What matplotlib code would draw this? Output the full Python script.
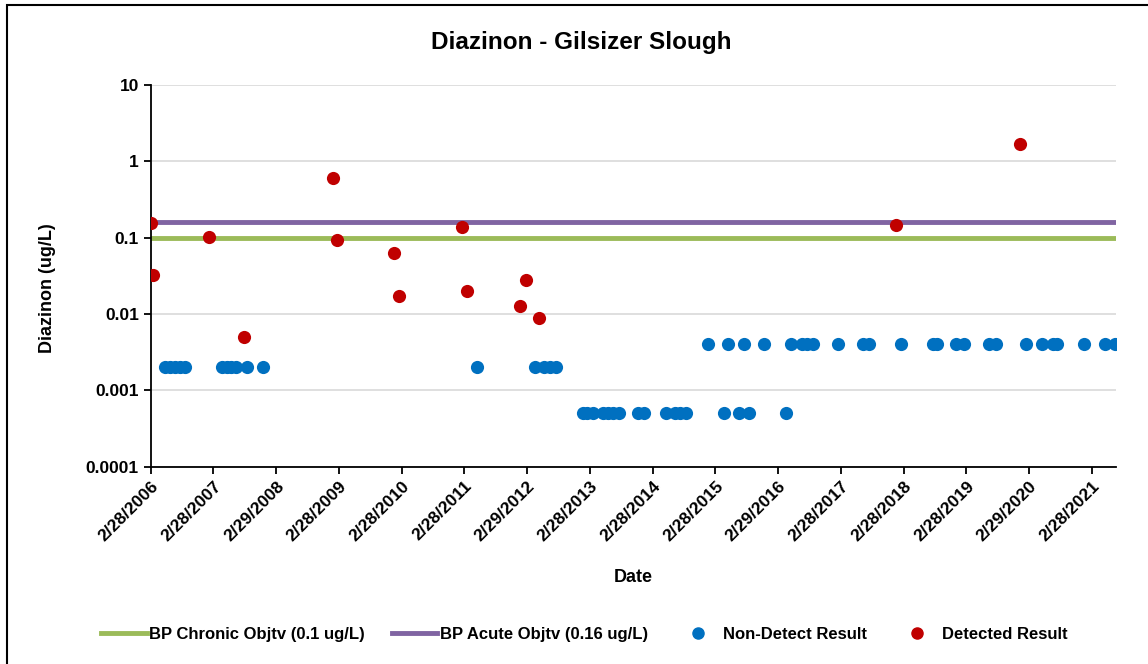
import matplotlib
matplotlib.use("Agg")
import matplotlib.pyplot as plt
import matplotlib.dates as mdates
from matplotlib.lines import Line2D
from matplotlib.patches import Rectangle
import pandas as pd

plt.rcParams['font.family'] = ['Liberation Sans', 'DejaVu Sans']
plt.rcParams['font.weight'] = 'bold'

# Detected results (ug/L)
detect_dates = ['2006-02-28', '2006-03-15', '2007-02-04', '2007-08-22', '2009-01-26',
                '2009-02-15', '2010-01-14', '2010-02-14', '2011-02-12', '2011-03-13',
                '2012-01-19', '2012-02-21', '2012-05-09', '2018-01-16', '2020-01-07']
detect_vals = [0.155, 0.032, 0.103, 0.005, 0.6,
               0.093, 0.064, 0.0175, 0.138, 0.02,
               0.0127, 0.028, 0.009, 0.149, 1.7]

# Non-detect results (reporting limit, ug/L)
nd_dates = ['2006-05-24', '2006-06-20', '2006-07-19', '2006-08-17', '2006-09-14',
            '2007-04-18', '2007-05-16', '2007-06-12', '2007-07-07', '2007-09-13',
            '2007-12-14', '2011-05-10', '2012-04-15', '2012-06-05', '2012-07-10',
            '2012-08-14',
            '2013-01-16', '2013-02-13', '2013-03-15', '2013-05-16', '2013-06-15',
            '2013-07-14', '2013-08-16', '2013-12-06', '2014-01-10', '2014-05-16',
            '2014-07-07', '2014-08-05', '2014-09-09', '2015-04-16', '2015-07-15',
            '2015-09-09', '2016-04-15',
            '2015-01-15', '2015-05-11', '2015-08-11', '2015-12-08', '2016-05-11',
            '2016-07-14', '2016-08-12', '2016-09-16', '2017-02-11', '2017-07-07',
            '2017-08-11', '2018-02-14', '2018-08-19', '2018-09-11', '2019-01-01',
            '2019-02-15', '2019-07-10', '2019-08-19', '2020-02-11', '2020-05-11',
            '2020-07-17', '2020-08-10', '2021-01-14', '2021-05-16', '2021-07-12']
nd_vals = [0.002] * 16 + [0.0005] * 17 + [0.004] * 25

chronic = 0.1
acute = 0.16

tick_labels = ['2/28/2006', '2/28/2007', '2/29/2008', '2/28/2009', '2/28/2010',
               '2/28/2011', '2/29/2012', '2/28/2013', '2/28/2014', '2/28/2015',
               '2/29/2016', '2/28/2017', '2/28/2018', '2/28/2019', '2/29/2020',
               '2/28/2021']

x_start = pd.Timestamp('2006-02-28')
x_end = pd.Timestamp('2021-07-16')

fig = plt.figure(figsize=(11.48, 6.64), dpi=100)
ax = fig.add_axes([0.1313, 0.2971, 0.8406, 0.5748])

# frame around whole chart (right/bottom edges fall outside the image)
fig.patches.append(Rectangle((7 / 1148, -0.05), 1.2, 1 - 5 / 664 + 0.05,
                             transform=fig.transFigure, fill=False,
                             edgecolor='black', linewidth=1.5))

ax.plot([x_start, x_end], [chronic, chronic], color='#9BBB59', lw=3.5, zorder=2)
ax.plot([x_start, x_end], [acute, acute], color='#8064A2', lw=3.5, zorder=2)
ax.scatter(pd.to_datetime(nd_dates), nd_vals, s=90, color='#0070C0', zorder=3, linewidths=0)
ax.scatter(pd.to_datetime(detect_dates), detect_vals, s=90, color='#C00000', zorder=4, linewidths=0)

ax.set_yscale('log')
ax.set_ylim(0.0001, 10)
ax.set_yticks([0.0001, 0.001, 0.01, 0.1, 1, 10])
ax.set_yticklabels(['0.0001', '0.001', '0.01', '0.1', '1', '10'])
ax.minorticks_off()
ax.yaxis.grid(True, color='#D9D9D9', lw=1.2)
ax.set_axisbelow(True)

ticks = [mdates.date2num(x_start) + 365.25 * i for i in range(len(tick_labels))]
ax.set_xticks(ticks)
ax.set_xticklabels(tick_labels, rotation=45, ha='right', rotation_mode='anchor', fontsize=12.5)
ax.set_xlim(mdates.date2num(x_start), mdates.date2num(x_end))
ax.tick_params(axis='y', labelsize=12.5)
ax.tick_params(direction='out', length=5, width=1.3)

for s in ['top', 'right']:
    ax.spines[s].set_visible(False)
ax.spines['left'].set_linewidth(1.3)
ax.spines['bottom'].set_linewidth(1.3)

fig.text(581 / 1148, 1 - 42 / 664, 'Diazinon - Gilsizer Slough', fontsize=17.5,
         fontweight='bold', ha='center', va='center')
fig.text(48 / 1148, 1 - 288 / 664, 'Diazinon (ug/L)', fontsize=13, fontweight='bold',
         rotation=90, ha='center', va='center')
fig.text(633 / 1148, 1 - 578 / 664, 'Date', fontsize=13, fontweight='bold',
         ha='center', va='center')

handles = [Line2D([], [], color='#9BBB59', lw=3.5),
           Line2D([], [], color='#8064A2', lw=3.5),
           Line2D([], [], marker='o', ls='', color='#0070C0', markersize=8),
           Line2D([], [], marker='o', ls='', color='#C00000', markersize=8)]
labels = ['BP Chronic Objtv (0.1 ug/L)', 'BP Acute Objtv (0.16 ug/L)',
          'Non-Detect Result', 'Detected Result']
fig.legend(handles, labels, loc='center', bbox_to_anchor=(0.509, 0.044), ncol=4,
           frameon=False, fontsize=12, handlelength=2.75, handletextpad=0.15,
           columnspacing=1.6)

fig.savefig('out.png', dpi=100)
